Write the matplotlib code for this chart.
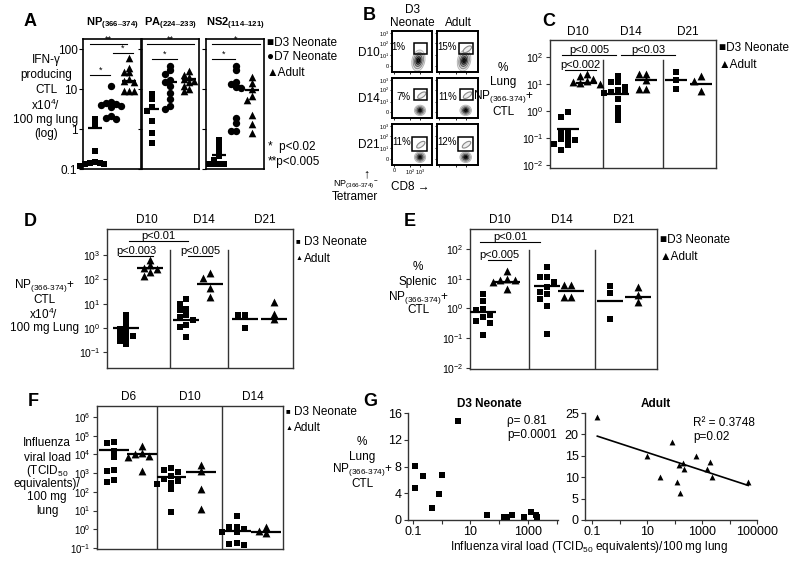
import numpy as np
import matplotlib
matplotlib.use('Agg')
import matplotlib.pyplot as plt
from matplotlib.patches import Rectangle, Ellipse
from matplotlib.ticker import NullLocator

plt.rcParams['font.family'] = ['Liberation Sans', 'DejaVu Sans']
plt.rcParams['mathtext.fontset'] = 'custom'
plt.rcParams['mathtext.rm'] = 'Liberation Sans'
plt.rcParams['mathtext.it'] = 'Liberation Sans:italic'
plt.rcParams['mathtext.bf'] = 'Liberation Sans:bold'

# ---------------- data ----------------
# A: IFN-g producing CTL x10^4 / 100 mg lung
a_np_d3 = [1.8, 1.3, 0.28, 0.15, 0.14, 0.14, 0.13, 0.13, 0.12]
a_np_d7 = [12, 4.6, 4.5, 4.3, 4.0, 3.8, 3.5, 2.1, 1.9, 1.8]
a_np_adult = [60, 33, 27, 26, 18, 16, 15, 9, 9, 9]
a_np_means = [1.06, 4.2, 16]
a_pa_d3 = [7.5, 5.5, 3.5, 2.8, 1.6, 0.8, 0.45]
a_pa_d7 = [38, 30, 24, 17, 15, 12, 8, 5.5, 3.7, 3.2]
a_pa_adult = [28, 23, 20, 18, 16, 15, 12, 10, 9]
a_pa_means = [3.2, 15, 18]
a_ns2_d3 = [0.52, 0.37, 0.28, 0.21, 0.17, 0.13, 0.13, 0.13, 0.13]
a_ns2_d7 = [38, 30, 15, 13, 11, 10.5, 1.9, 1.4, 0.88, 0.88]
a_ns2_adult = [20, 14, 10, 6.5, 5.4, 2.3, 1.3, 0.8]
a_ns2_means = [0.23, 12, 9.3]
a_titles = [r'$\mathbf{NP_{(366\text{–}374)}}$', r'$\mathbf{PA_{(224\text{–}233)}}$',
            r'$\mathbf{NS2_{(114\text{–}121)}}$']

# B: % tetramer+ of CD8 (flow plots)
b_rows = ['D10', 'D14', 'D21']
b_neonate_pct = ['1%', '7%', '11%']
b_adult_pct = ['15%', '11%', '12%']

# C: % lung NP(366-374)+ CTL
c_days = ['D10', 'D14', 'D21']
c_d10_neo = [0.9, 0.6, 0.16, 0.15, 0.09, 0.09, 0.085, 0.06, 0.055, 0.037]
c_d10_adult = [23, 19, 15, 13, 12, 11, 10]
c_d14_neo = [20, 12, 12, 8, 6, 5, 5, 4.5, 2.7, 1.3, 0.8, 0.45]
c_d14_adult = [23, 23, 14, 6.7, 6.7]
c_d21_neo = [28, 14, 6.7]
c_d21_adult = [20, 13, 5.5]
c_means = [0.22, 11, 4.1, 14, 14, 9.7]

# D: NP(366-374)+ CTL x10^4 / 100 mg lung
d_d10_neo = [3.3, 2.0, 1.2, 0.9, 0.7, 0.5, 0.45, 0.38, 0.3, 0.22]
d_d10_adult = [650, 400, 280, 260, 200, 140]
d_d14_neo = [15, 9.5, 6, 5.4, 3.3, 2.9, 2.1, 1.3, 1.1, 0.42]
d_d14_adult = [180, 117, 42, 18]
d_d21_neo = [3.5, 3.3, 1.0]
d_d21_adult = [12, 3.9, 2.4]
d_means = [1.0, 280, 2.2, 64, 2.3, 2.3]

# E: % splenic NP(366-374)+ CTL
e_d10_neo = [3.0, 1.8, 0.93, 0.88, 0.6, 0.5, 0.38, 0.33, 0.126]
e_d10_adult = [18, 10, 9, 9, 8, 4.4]
e_d14_neo = [24, 11, 11, 7.9, 5.1, 3.6, 3.0, 2.0, 1.2, 0.14]
e_d14_adult = [6.1, 6.1, 2.35, 2.35]
e_d21_neo = [5.6, 3.4, 0.43]
e_d21_adult = [5.1, 2.8, 1.7]
e_means = [0.77, 7.9, 5.8, 3.9, 1.8, 2.35]

# F: influenza viral load (TCID50 equivalents) / 100 mg lung
f_days = ['D6', 'D10', 'D14']
f_d6_neo = [43000, 40000, 15700, 7200, 1390, 1300, 440, 330]
f_d6_adult = [28000, 12000, 10000, 8000, 7500, 1300]
f_d10_neo = [1900, 1400, 1100, 700, 470, 400, 300, 270, 150, 8]
f_d10_adult = [2600, 1300, 140, 12]
f_d14_neo = [5.4, 1.4, 1.3, 1.1, 0.75, 0.7, 0.18, 0.16, 0.15]
f_d14_adult = [1.4, 0.8, 0.65]
f_means = [17700, 10000, 610, 1100, 0.85, 0.7]

# G: % lung NP+ CTL vs viral load
g_neo_load = [0.117, 0.117, 0.23, 1.07, 0.80, 0.47, 3.6, 38, 147, 190, 285, 730, 1230, 1860, 2100]
g_neo_pct = [8.1, 4.8, 6.6, 6.8, 3.9, 1.75, 14.8, 0.75, 0.4, 0.4, 0.75, 0.4, 1.25, 0.75, 0.4]
g_adult_load = [0.156, 10.2, 30, 79, 120, 150, 158, 198, 222, 605, 1480, 1950, 2240, 48000]
g_adult_pct = [24.1, 15.0, 10.0, 18.3, 8.9, 12.9, 6.4, 13.4, 11.8, 15.0, 11.8, 13.6, 10.1, 8.9]
g_fit_intercept = 17.9   # trend line
g_fit_slope = -2.1       # per decade of viral load

# ---------------- layout helpers ----------------
W, H = 800, 561
fig = plt.figure(figsize=(W / 100, H / 100), dpi=100)
SPINE = '#333333'


def px_axes(x0, y0, x1, y1):
    return fig.add_axes([x0 / W, 1 - y1 / H, (x1 - x0) / W, (y1 - y0) / H])


def px_text(x, y, s, size=8, **kw):
    kw.setdefault('ha', 'center')
    kw.setdefault('va', 'center')
    return fig.text(x / W, 1 - y / H, s, fontsize=size, **kw)


def swarm_x(vals, center, dx, dlog):
    lv = np.log10(np.asarray(vals, dtype=float))
    xs = np.zeros(len(lv))
    placed = []
    for i in np.argsort(-lv):
        for k in (0, -1, 1, -2, 2, -3, 3):
            x = center + k * dx
            if all(abs(x - qx) > 0.9 * dx or abs(lv[i] - qy) > dlog for qx, qy in placed):
                break
        xs[i] = x
        placed.append((x, lv[i]))
    return xs


def dot_groups(ax, groups, means, centers, markers, dx, dlog, sizes, half):
    for vals, m, c, mk in zip(groups, means, centers, markers):
        xs = swarm_x(vals, c, dx, dlog)
        ax.scatter(xs, vals, marker=mk, s=sizes[mk], color='black', linewidths=0,
                   zorder=3, clip_on=False)
        ax.plot([c - half, c + half], [m, m], color='black', lw=1.6, zorder=4,
                solid_capstyle='butt')


def log_box(ax, lo, hi, exps, size=7.5):
    ax.set_yscale('log')
    ax.set_ylim(10 ** lo, 10 ** hi)
    ax.set_xlim(0, 1)
    ax.set_xticks([])
    ax.set_yticks([10.0 ** e for e in exps])
    ax.set_yticklabels(['10$^{%d}$' % e for e in exps])
    ax.yaxis.set_minor_locator(NullLocator())
    ax.tick_params(axis='y', length=3, width=0.8, labelsize=size, pad=1.5, color=SPINE)
    for sp in ax.spines.values():
        sp.set_linewidth(1.0)
        sp.set_color(SPINE)


def dividers(ax, xs, top, lo):
    for d in xs:
        ax.plot([d, d], [10 ** lo, top], color=SPINE, lw=1.0, zorder=1)


def sig(ax, x0, x1, y, label, size=8):
    ax.plot([x0, x1], [y, y], color='black', lw=0.8, clip_on=False)
    ax.text((x0 + x1) / 2, y, label, ha='center', va='bottom', fontsize=size, clip_on=False)


def headers(ax, xs, labels, dy):
    for x, lab in zip(xs, labels):
        ax.text(x, 1 + dy, lab, transform=ax.transAxes, ha='center', va='center', fontsize=8.5)


def stacked(x, ys, lines, size=8.5):
    for y, s in zip(ys, lines):
        px_text(x, y, s, size=size)


MK = {'s': 24, '^': 32, 'o': 26}
NP_LAB = r'NP$_{(366\text{-}374)}$'

# ---------------- A ----------------
px_text(30, 22, 'A', size=13, fontweight='bold')
a_boxes = [(83, 141), (142, 199), (206, 264)]
a_sets = [((a_np_d3, a_np_d7, a_np_adult), a_np_means, [0.2, 0.48, 0.8]),
          ((a_pa_d3, a_pa_d7, a_pa_adult), a_pa_means, [0.18, 0.49, 0.82]),
          ((a_ns2_d3, a_ns2_d7, a_ns2_adult), a_ns2_means, [0.23, 0.52, 0.8])]
a_sigs = [[(0.12, 0.76, 135, '**'), (0.12, 0.47, 22, '*'), (0.52, 0.86, 79, '*')],
          [(0.09, 0.92, 135, '**'), (0.17, 0.61, 56, '*')],
          [(0.10, 0.93, 135, '*'), (0.10, 0.50, 56, '*')]]
for i, ((x0, x1), (groups, means, cx), sigs, title) in enumerate(zip(a_boxes, a_sets, a_sigs, a_titles)):
    ax = px_axes(x0, 39, x1, 169)
    ax.set_yscale('log')
    ax.set_ylim(0.1, 10 ** 2.25)
    ax.set_xlim(0, 1)
    ax.set_xticks([])
    ax.set_yticks([0.1, 1, 10, 100])
    ax.set_yticklabels(['0.1', '1', '10', '100'] if i == 0 else [])
    ax.yaxis.set_minor_locator(NullLocator())
    ax.tick_params(axis='y', length=3, width=0.8, labelsize=8.5, pad=1)
    for sp in ax.spines.values():
        sp.set_linewidth(1.2)
    dot_groups(ax, groups, means, cx, ['s', 'o', '^'], 0.085, 0.1,
               {'s': 22, 'o': 28, '^': 30}, 0.12)
    for s0, s1, y, lab in sigs:
        ax.plot([s0, s1], [y, y], color='black', lw=0.8)
        ax.text((s0 + s1) / 2, y * 1.02, lab, ha='center', va='bottom', fontsize=6.5)
    px_text((x0 + x1) / 2, 24, title, size=8)
px_text(267, 43, '■D3 Neonate', size=8.5, ha='left')
px_text(267, 57, '●D7 Neonate', size=8.5, ha='left')
px_text(267, 73, '▲Adult', size=8.5, ha='left')
px_text(268, 147, '*  p<0.02', size=8.5, ha='left')
px_text(268, 162, '**p<0.005', size=8.5, ha='left')
stacked(46, [60, 75, 90, 105, 120, 134],
        ['IFN-γ', 'producing', 'CTL', 'x10$^{4}$/', '100 mg lung', '(log)'])

# ---------------- B ----------------
px_text(369, 16, 'B', size=13, fontweight='bold')
b_cols = [(392, 432), (437, 478)]
b_rows_y = [(31, 72), (78, 118), (124, 165)]
b_text_xy = [[(0.16, 0.62), (0.25, 0.62)], [(0.3, 0.52), (0.25, 0.52)], [(0.24, 0.55), (0.25, 0.55)]]
b_gates = [(0.54, 0.44, 0.88, 0.71), (0.55, 0.45, 0.88, 0.73), (0.50, 0.35, 0.88, 0.68)]
for r, ((y0, y1), row) in enumerate(zip(b_rows_y, b_rows)):
    px_text(380, (y0 + y1) / 2 + 1, row, size=8.5, ha='right')
    for c, (x0, x1) in enumerate(b_cols):
        ax = px_axes(x0, y0, x1, y1)
        ax.set_xlim(0, 1)
        ax.set_ylim(0, 1)
        for sp in ax.spines.values():
            sp.set_linewidth(1.4)
        ax.set_yticks([0.15, 0.41, 0.71, 0.95])
        ax.set_yticklabels(['0', '10$^{1}$', '10$^{2}$', '10$^{3}$'] if c == 0 else [])
        ax.set_xticks([0.05, 0.46, 0.71])
        ax.set_xticklabels(['0', '10$^{2}$', '10$^{3}$'] if (c == 0 and r == 2) else [])
        ax.tick_params(length=1.5, width=0.6, labelsize=4, pad=0.5)
        # main CD8+ tetramer- population drawn as nested contours
        if r == 0:
            cx, cy, w, h, ang = 0.66, 0.28, 0.32, 0.52, -12
        else:
            cx, cy, w, h, ang = 0.70, 0.19, 0.28, 0.26, 0
        for f, fc, ec in zip([1.0, 0.78, 0.56, 0.36, 0.18],
                             ['#ececec', '#cfcfcf', '#a0a0a0', '#5c5c5c', '#202020'],
                             ['#b8b8b8', '#8c8c8c', '#555555', '#222222', '#000000']):
            ax.add_patch(Ellipse((cx, cy), w * f, h * f, angle=ang, facecolor=fc,
                                 edgecolor=ec, lw=0.7))
        gx0, gy0, gx1, gy1 = b_gates[r]
        if not (r == 0 and c == 0):
            ax.add_patch(Ellipse(((gx0 + gx1) / 2 + 0.03, (gy0 + gy1) / 2 - 0.02), 0.24, 0.11,
                                 angle=35, facecolor='#eeeeee', edgecolor='#8a8a8a', lw=0.8))
        ax.add_patch(Rectangle((gx0, gy0), gx1 - gx0, gy1 - gy0, facecolor='none',
                               edgecolor='black', lw=1.1))
        pct = b_neonate_pct[r] if c == 0 else b_adult_pct[r]
        ax.text(*b_text_xy[r][c], pct, transform=ax.transAxes, ha='center', va='center', fontsize=7)
px_text(412, 10, 'D3', size=8.5)
px_text(412, 23, 'Neonate', size=8.5)
px_text(458, 23, 'Adult', size=8.5)
px_text(366, 174, '↑', size=9)
px_text(356, 185, NP_LAB + '$^{-}$', size=6.5)
px_text(355, 197, 'Tetramer', size=8.5)
px_text(410, 187, 'CD8 →', size=8.5)

# ---------------- C ----------------
px_text(549, 22, 'C', size=13, fontweight='bold')
ax = px_axes(550, 40, 716, 168)
lo, hi = -2.11, 2.63
log_box(ax, lo, hi, [-2, -1, 0, 1, 2])
dividers(ax, [0.32, 0.68], 75, lo)
dot_groups(ax, [c_d10_neo, c_d10_adult, c_d14_neo, c_d14_adult, c_d21_neo, c_d21_adult],
           c_means, [0.11, 0.22, 0.41, 0.58, 0.76, 0.91], ['s', '^'] * 3,
           0.042, 0.2, MK, 0.065)
sig(ax, 0.07, 0.40, 122, 'p<0.005')
sig(ax, 0.43, 0.75, 122, 'p<0.03')
sig(ax, 0.09, 0.28, 32, 'p<0.002')
headers(ax, [0.17, 0.49, 0.83], c_days, 8 / 128)
px_text(719, 48, '■D3 Neonate', size=8.5, ha='left')
px_text(719, 65, '▲Adult', size=8.5, ha='left')
stacked(503, [68, 82, 97, 112], ['%', 'Lung', NP_LAB + '+', 'CTL'])

# ---------------- D ----------------
px_text(30, 222, 'D', size=13, fontweight='bold')
ax = px_axes(107, 229, 293, 368)
lo, hi = -1.65, 4.07
log_box(ax, lo, hi, [-1, 0, 1, 2, 3])
dividers(ax, [0.339, 0.652], 1600, lo)
dot_groups(ax, [d_d10_neo, d_d10_adult, d_d14_neo, d_d14_adult, d_d21_neo, d_d21_adult],
           d_means, [0.104, 0.233, 0.427, 0.552, 0.74, 0.9], ['s', '^'] * 3,
           0.034, 0.2, MK, 0.07)
sig(ax, 0.118, 0.435, 3800, 'p<0.01')
sig(ax, 0.065, 0.247, 910, 'p<0.003')
sig(ax, 0.435, 0.566, 910, 'p<0.005')
headers(ax, [0.215, 0.52, 0.85], c_days, 9 / 139)
px_text(296, 242, '■', size=5.5, ha='left')
px_text(304, 242, 'D3 Neonate', size=8.5, ha='left')
px_text(296, 259, '▲', size=5, ha='left')
px_text(304, 259, 'Adult', size=8.5, ha='left')
stacked(44, [286, 300, 314, 328], [NP_LAB + '+', 'CTL', 'x10$^{4}$/', '100 mg Lung'])

# ---------------- E ----------------
px_text(410, 222, 'E', size=13, fontweight='bold')
ax = px_axes(470, 229, 657, 369)
lo, hi = -2.04, 2.67
log_box(ax, lo, hi, [-2, -1, 0, 1, 2])
dividers(ax, [0.316, 0.668], 93, lo)
dot_groups(ax, [e_d10_neo, e_d10_adult, e_d14_neo, e_d14_adult, e_d21_neo, e_d21_adult],
           e_means, [0.07, 0.2, 0.41, 0.54, 0.75, 0.9], ['s', '^'] * 3,
           0.038, 0.2, MK, 0.07)
sig(ax, 0.053, 0.374, 168, 'p<0.01')
sig(ax, 0.097, 0.22, 42.6, 'p<0.005')
headers(ax, [0.16, 0.49, 0.82], c_days, 9 / 140)
px_text(660, 240, '■D3 Neonate', size=8.5, ha='left')
px_text(660, 257, '▲Adult', size=8.5, ha='left')
stacked(418, [267, 282, 297, 310], ['%', 'Splenic', NP_LAB + '+', 'CTL'])

# ---------------- F ----------------
px_text(33, 402, 'F', size=13, fontweight='bold')
ax = px_axes(97, 406, 283, 549)
lo, hi = -1.05, 6.58
log_box(ax, lo, hi, [-1, 0, 1, 2, 3, 4, 5, 6], size=7)
dividers(ax, [0.32, 0.67], 10 ** hi, lo)
dot_groups(ax, [f_d6_neo, f_d6_adult, f_d10_neo, f_d10_adult, f_d14_neo, f_d14_adult],
           f_means, [0.09, 0.24, 0.40, 0.56, 0.75, 0.91], ['s', '^'] * 3,
           0.038, 0.3, MK, 0.08)
headers(ax, [0.17, 0.50, 0.84], f_days, 9 / 143)
px_text(286, 412, '■', size=5.5, ha='left')
px_text(294, 412, 'D3 Neonate', size=8.5, ha='left')
px_text(286, 428, '▲', size=5, ha='left')
px_text(294, 428, 'Adult', size=8.5, ha='left')
stacked(47, [443, 458, 471, 484, 497, 511],
        ['Influenza', 'viral load', '(TCID$_{50}$', 'equivalents)/', '100 mg', 'lung'])

# ---------------- G ----------------
px_text(370, 402, 'G', size=13, fontweight='bold')


def g_axes(box, xlim, ylim, yticks, xlabels):
    ax = px_axes(*box)
    ax.set_xscale('log')
    ax.set_xlim(*xlim)
    ax.set_ylim(*ylim)
    ax.set_yticks(yticks)
    dec = [10.0 ** e for e in range(-1, len(xlabels) - 1)]
    ax.set_xticks(dec)
    ax.set_xticklabels(xlabels)
    ax.xaxis.set_minor_locator(NullLocator())
    ax.spines['top'].set_visible(False)
    ax.spines['right'].set_visible(False)
    for sp in ('left', 'bottom'):
        ax.spines[sp].set_linewidth(1.0)
        ax.spines[sp].set_color(SPINE)
    ax.tick_params(length=3, width=0.8, labelsize=9, pad=1.5, color=SPINE)
    return ax


ax = g_axes((408, 413, 558, 520), (0.068, 11000), (0, 16), [0, 4, 8, 12, 16],
            ['0.1', '', '10', '', '1000', ''])
ax.scatter(g_neo_load, g_neo_pct, marker='s', s=20, color='black', linewidths=0, clip_on=False, zorder=3)
ax.text(0.66, 0.86, 'ρ= 0.81\np=0.0001', transform=ax.transAxes, fontsize=8.5, ha='left',
        va='center', linespacing=1.15)
px_text(489, 404, 'D3 Neonate', size=8.5, fontweight='bold')

ax = g_axes((585, 413, 757, 520), (0.0556, 1e5), (0, 25), [0, 5, 10, 15, 20, 25],
            ['0.1', '', '10', '', '1000', '', '100000'])
ax.scatter(g_adult_load, g_adult_pct, marker='^', s=18, color='black', linewidths=0, clip_on=False, zorder=3)
fit_x = np.array([min(g_adult_load), max(g_adult_load)])
ax.plot(fit_x, g_fit_intercept + g_fit_slope * np.log10(fit_x), color='black', lw=1.2)
ax.text(0.63, 0.84, 'R² = 0.3748\np=0.02', transform=ax.transAxes, fontsize=8.5, ha='left',
        va='center', linespacing=1.15)
px_text(656, 404, 'Adult', size=8.5, fontweight='bold')
px_text(589, 547, 'Influenza viral load (TCID$_{50}$ equivalents)/100 mg lung', size=8.5)
stacked(362, [442, 457, 469, 484], ['%', 'Lung', NP_LAB + '+', 'CTL'])

fig.savefig('out.png', dpi=100)
